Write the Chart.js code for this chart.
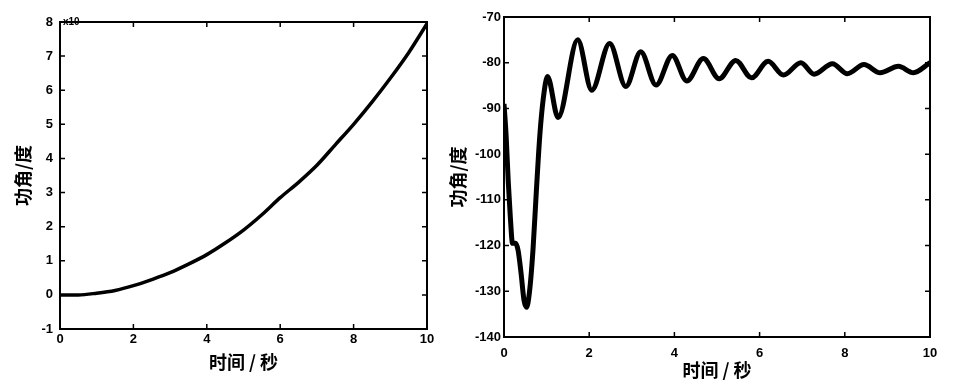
<!DOCTYPE html>
<html>
<head>
<meta charset="utf-8">
<script src="https://cdn.jsdelivr.net/npm/chart.js@4/dist/chart.umd.min.js"></script>
<style>
  html, body { margin: 0; padding: 0; background: #fff; }
  body { width: 970px; height: 388px; position: relative; overflow: hidden; }
  .panel { position: absolute; top: 0; height: 388px; }
  #leftBox { left: 0; width: 450px; }
  #rightBox { left: 440px; width: 530px; }
</style>
</head>
<body>
<div class="panel" id="leftBox"><canvas id="leftChart"></canvas></div>
<div class="panel" id="rightBox"><canvas id="rightChart"></canvas></div>
<script>
// time axis ticks (seconds)
const xTickValues = [0, 2, 4, 6, 8, 10];
const leftYTicks = [-1, 0, 1, 2, 3, 4, 5, 6, 7, 8];
const rightYTicks = [-140, -130, -120, -110, -100, -90, -80, -70];

// left plot: power angle (x10) vs time
const leftTime = [0, 0.5, 1, 1.5, 2, 2.5, 3, 3.5, 4, 4.5, 5, 5.5, 6, 6.5, 7, 7.5, 8, 8.5, 9, 9.5, 10];
const leftAngle = [0, 0, 0.05, 0.13, 0.27, 0.45, 0.65, 0.9, 1.18, 1.52, 1.9, 2.35, 2.85, 3.3, 3.8, 4.4, 5.0, 5.65, 6.35, 7.1, 7.95];

// right plot: power angle (deg) vs time
const rightTime = [0, 0.05, 0.1, 0.15, 0.2, 0.27, 0.33, 0.4, 0.47, 0.53, 0.6, 0.68, 0.76, 0.84, 0.92, 1.02,
  1.27, 1.73, 2.06, 2.48, 2.86, 3.21, 3.57, 3.95, 4.29, 4.68, 5.05, 5.44, 5.81, 6.2, 6.56, 6.97,
  7.28, 7.71, 8.06, 8.45, 8.83, 9.26, 9.61, 10];
const rightAngle = [-89, -96, -106, -114, -119.5, -119.5, -121, -126, -132, -133.5, -130, -121, -108, -96, -88, -83,
  -92, -75, -86, -75.8, -85.2, -77.6, -84.9, -78.4, -84, -79.1, -83.5, -79.5, -83.3, -79.7, -82.7, -80,
  -82.5, -80.2, -82.4, -80.4, -82.2, -80.8, -82.2, -80];

const tickFont = { family: 'Liberation Sans', size: 13, weight: 'bold' };
const titleFont = { family: 'Noto Sans CJK SC', size: 18, weight: 'bold' };

// matlab-like box with inward ticks on all four sides
const boxTicks = {
  id: 'boxTicks',
  afterDraw(chart, args, opts) {
    const { ctx, chartArea: a, scales } = chart;
    ctx.save();
    ctx.strokeStyle = '#000';
    ctx.lineWidth = 2;
    ctx.strokeRect(a.left, a.top, a.right - a.left, a.bottom - a.top);
    ctx.lineWidth = 1.5;
    const len = 5;
    ctx.beginPath();
    scales.x.ticks.forEach(t => {
      const px = scales.x.getPixelForValue(t.value);
      ctx.moveTo(px, a.bottom); ctx.lineTo(px, a.bottom - len);
      ctx.moveTo(px, a.top); ctx.lineTo(px, a.top + len);
    });
    scales.y.ticks.forEach(t => {
      const py = scales.y.getPixelForValue(t.value);
      ctx.moveTo(a.left, py); ctx.lineTo(a.left + len, py);
      ctx.moveTo(a.right, py); ctx.lineTo(a.right - len, py);
    });
    ctx.stroke();
    if (opts && opts.exponent) {
      ctx.fillStyle = '#000';
      ctx.font = 'bold 10px Liberation Sans';
      ctx.textBaseline = 'middle';
      ctx.fillText(opts.exponent, a.left + 3, a.top);
    }
    ctx.restore();
  }
};

function toPoints(xs, ys) {
  return xs.map((x, i) => ({ x: x, y: ys[i] }));
}

function makeChart(id, cfg) {
  const ctx = document.getElementById(id).getContext('2d');
  return new Chart(ctx, {
    type: 'line',
    data: {
      datasets: [{
        data: toPoints(cfg.xs, cfg.ys),
        borderColor: '#000',
        borderWidth: cfg.lineWidth,
        pointRadius: 0,
        cubicInterpolationMode: 'monotone',
        fill: false
      }]
    },
    options: {
      responsive: true,
      maintainAspectRatio: false,
      animation: false,
      layout: { padding: cfg.padding },
      plugins: {
        legend: { display: false },
        tooltip: { enabled: false },
        boxTicks: { exponent: cfg.exponent }
      },
      scales: {
        x: {
          type: 'linear',
          min: 0, max: 10,
          afterBuildTicks: s => { s.ticks = xTickValues.map(v => ({ value: v })); },
          afterFit: s => { s.height = cfg.xHeight; },
          grid: { display: false, drawTicks: false },
          border: { display: false },
          ticks: { color: '#000', font: tickFont, padding: cfg.xTickPad, maxRotation: 0 },
          title: { display: true, text: '时间 / 秒', color: '#000', font: titleFont, padding: { top: 0, bottom: cfg.xTitlePad } }
        },
        y: {
          type: 'linear',
          min: cfg.yTicks[0], max: cfg.yTicks[cfg.yTicks.length - 1],
          afterBuildTicks: s => { s.ticks = cfg.yTicks.map(v => ({ value: v })); },
          afterFit: s => { s.width = cfg.yWidth; },
          grid: { display: false, drawTicks: false },
          border: { display: false },
          ticks: { color: '#000', font: tickFont, padding: cfg.yTickPad },
          title: { display: true, text: '功角/度', color: '#000', font: titleFont, padding: { top: cfg.yTitlePad, bottom: 0 } }
        }
      }
    },
    plugins: [boxTicks]
  });
}

makeChart('leftChart', {
  xs: leftTime, ys: leftAngle, yTicks: leftYTicks, lineWidth: 3.5,
  padding: { top: 22, right: 23, left: 0, bottom: 0 },
  xHeight: 59, yWidth: 60, xTickPad: 3, yTickPad: 7,
  xTitlePad: 15, yTitlePad: 12, exponent: 'x10'
});

makeChart('rightChart', {
  xs: rightTime, ys: rightAngle, yTicks: rightYTicks, lineWidth: 5,
  padding: { top: 17, right: 40, left: 0, bottom: 0 },
  xHeight: 51, yWidth: 64, xTickPad: 9, yTickPad: 3,
  xTitlePad: 7, yTitlePad: 7, exponent: null
});
</script>
</body>
</html>
